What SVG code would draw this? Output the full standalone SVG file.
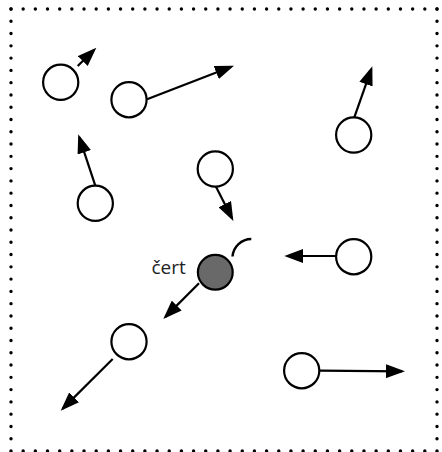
<svg xmlns="http://www.w3.org/2000/svg" width="442" height="452" viewBox="0 0 442 452">
<style>
.dots{stroke:#000;stroke-width:3.4;stroke-linecap:round;fill:none}
.node{fill:#fff;stroke:#000;stroke-width:2.2}
.cert{fill:#696969;stroke:#000;stroke-width:2.2}
.arr{stroke:#000;stroke-width:2.2;fill:none;marker-end:url(#ah)}
.lbl{font-family:"Open Sans","Liberation Sans",sans-serif;font-size:19px;fill:#222}
</style>
<defs>
<marker id="ah" markerUnits="userSpaceOnUse" markerWidth="19" markerHeight="14" refX="16" refY="7" orient="auto">
<path d="M0,0 L19,7 L0,14 z" fill="#000"/>
</marker>
</defs>
<rect width="442" height="452" fill="#fff"/>
<g id="border">
<line class="dots" x1="11" y1="9" x2="437" y2="9" stroke-dasharray="0 12.171"/>
<line class="dots" x1="11" y1="451" x2="437" y2="451" stroke-dasharray="0 12.171"/>
<line class="dots" x1="11" y1="9" x2="11" y2="451" stroke-dasharray="0 12.278"/>
<line class="dots" x1="437" y1="9" x2="437" y2="451" stroke-dasharray="0 12.278"/>
</g>
<g id="connectors">
<line class="arr" x1="77.7" y1="66" x2="94.2" y2="49.8"/>
<line class="arr" x1="147" y1="99.3" x2="231.2" y2="66.8"/>
<line class="arr" x1="354.3" y1="117.3" x2="371.3" y2="69.1"/>
<line class="arr" x1="95.3" y1="185.7" x2="79.2" y2="137.1"/>
<line class="arr" x1="216" y1="186.7" x2="232" y2="218.3"/>
<line class="arr" x1="335.7" y1="256" x2="287.3" y2="256"/>
<line class="arr" x1="199" y1="283.3" x2="165.4" y2="316.9"/>
<line class="arr" x1="112.7" y1="359" x2="62.8" y2="408.6"/>
<line class="arr" x1="320" y1="370.7" x2="402" y2="371.3"/>
<path d="M232.5,256.5 A19,19 0 0 1 251.3,239" fill="none" stroke="#000" stroke-width="2.4"/>
</g>
<g id="n1"><circle class="node" cx="60.7" cy="82.3" r="17.6"/></g>
<g id="n2"><circle class="node" cx="129" cy="99.7" r="17.6"/></g>
<g id="n3"><circle class="node" cx="353.7" cy="135" r="17.6"/></g>
<g id="n4"><circle class="node" cx="95.3" cy="203.3" r="17.6"/></g>
<g id="n5"><circle class="node" cx="215.3" cy="169" r="17.6"/></g>
<g id="n6"><circle class="node" cx="353.7" cy="256.7" r="17.6"/></g>
<g id="cert"><circle class="cert" cx="215.3" cy="272.3" r="17.4"/><text class="lbl" x="151.5" y="273.5">čert</text></g>
<g id="n7"><circle class="node" cx="129" cy="341.7" r="17.6"/></g>
<g id="n8"><circle class="node" cx="301.7" cy="370.7" r="17.6"/></g>
</svg>
